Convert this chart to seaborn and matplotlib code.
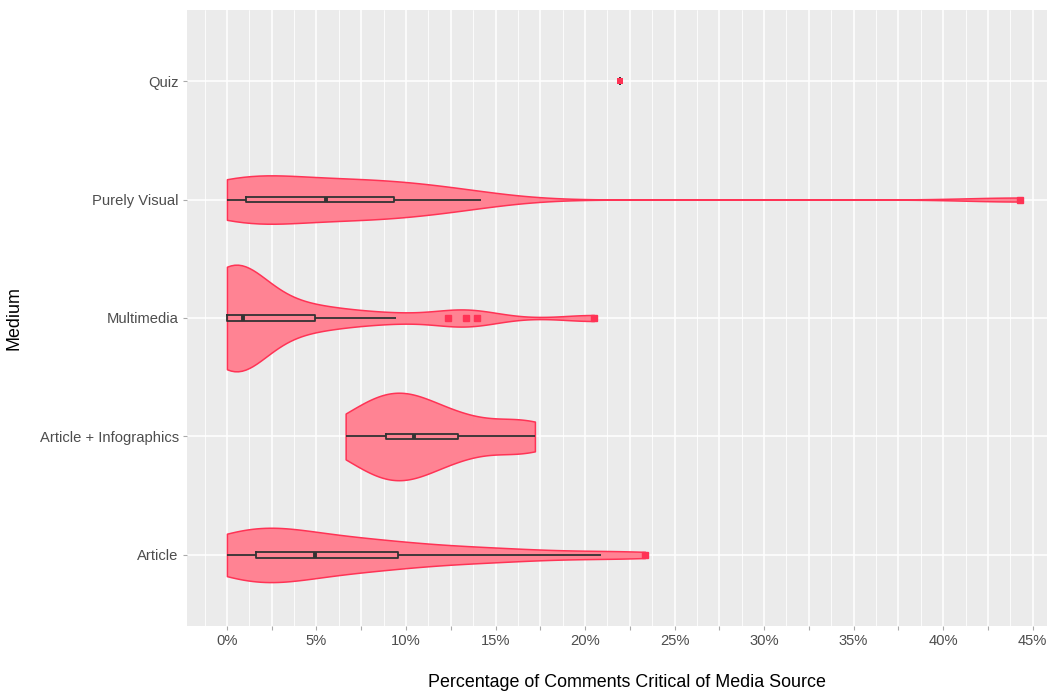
import matplotlib
matplotlib.use('Agg')
import matplotlib.pyplot as plt
import seaborn as sns
import pandas as pd
import numpy as np

article = [0, 0, 0, 0.5, 1.0, 1.3, 1.6, 1.6, 1.6, 2.1, 2.5, 2.8, 3.0, 3.4, 3.9,
           4.9, 5.5, 6.0, 6.6, 7.2, 8.0, 8.8, 9.3, 9.8, 11.6, 12.8, 14.0, 15.5,
           17.5, 20.9, 23.35]
article_info = [6.63, 7.8, 8.6, 9.14, 9.8, 10.45, 10.9, 12.3, 13.5, 16.0, 17.2]
multimedia = [0, 0, 0, 0, 0, 0, 0, 0, 0, 0, 0.3, 0.5, 0.6, 0.8, 0.9, 1.2, 1.5,
              2.0, 2.6, 3.3, 4.1, 4.9, 6.0, 7.4, 9.45, 12.35, 13.36, 13.98, 20.5]
purely_visual = [0, 0, 0.3, 0.5, 0.7, 0.9, 1.04, 1.6, 2.3, 3.0, 3.8, 4.6, 5.55,
                 6.2, 6.9, 7.4, 8.0, 8.6, 9.33, 10.2, 11.0, 12.0, 13.0, 14.2, 44.3]
quiz = [21.97]

order = ["Quiz", "Purely Visual", "Multimedia", "Article + Infographics", "Article"]

groups = {"Article": article, "Article + Infographics": article_info,
          "Multimedia": multimedia, "Purely Visual": purely_visual, "Quiz": quiz}
df = pd.DataFrame([(k, v) for k, vals in groups.items() for v in vals],
                  columns=["Medium", "Pct"])

fill_col = "#FF8393"
edge_col = "#FF3355"


def nrd0(kde):
    # R's default bandwidth, expressed as a factor of the sample sd
    x = kde.dataset.ravel()
    sd = x.std(ddof=1)
    q75, q25 = np.percentile(x, [75, 25])
    lo = min(sd, (q75 - q25) / 1.34) or sd
    return 0.9 * lo * len(x) ** -0.2 / sd


sns.set_theme(style="darkgrid", rc={
    "axes.facecolor": "#EBEBEB",
    "grid.color": "white",
})
plt.rcParams['font.family'] = ['Liberation Sans', 'DejaVu Sans']

fig, ax = plt.subplots(figsize=(10.54, 6.93), dpi=100)
fig.subplots_adjust(left=187 / 1054, right=1047 / 1054, top=1 - 10 / 693, bottom=1 - 626 / 693)

sns.violinplot(data=df[df["Medium"] != "Quiz"], x="Pct", y="Medium", order=order,
               color=fill_col, linecolor=edge_col, linewidth=1.1, saturation=1,
               inner=None, cut=0, density_norm="area", width=0.9,
               bw_method=nrd0, ax=ax)

sns.boxplot(data=df, x="Pct", y="Medium", order=order, width=0.05, fill=False,
            color="#333333", linewidth=1.3, showcaps=False,
            medianprops=dict(color="#333333", linewidth=2.8),
            flierprops=dict(marker="s", markerfacecolor=edge_col,
                            markeredgecolor=edge_col, markersize=4.5),
            ax=ax)

sns.stripplot(data=df[df["Medium"] == "Quiz"], x="Pct", y="Medium", order=order,
              marker="s", color=edge_col, jitter=False, size=4.5, ax=ax)

ax.set_xlim(-2.23, 45.8)
ax.set_ylim(4.6, -0.6)

major = np.arange(0, 45.01, 2.5)
ax.set_xticks(major)
ax.set_xticklabels([f"{v:.0f}%" if v % 5 == 0 else "" for v in major])
ax.set_xticks(np.arange(-1.25, 45.8, 2.5), minor=True)
ax.grid(which="major", color="white", linewidth=1.1)
ax.grid(which="minor", axis="x", color="white", linewidth=0.6)

ax.tick_params(axis="both", which="major", length=3, width=0.8, color="#AAAAAA",
               labelsize=10.6, labelcolor="#4D4D4D", pad=3)
ax.tick_params(axis="x", which="minor", length=0)
ax.tick_params(axis="x", which="major", bottom=True)
ax.tick_params(axis="y", which="major", left=True)

for s in ax.spines.values():
    s.set_visible(False)

xl = ax.set_xlabel("Percentage of Comments Critical of Media Source", fontsize=12.9, color="black")
xl.set_verticalalignment("center")
ax.xaxis.set_label_coords(0.511, -0.092)
ax.set_ylabel("Medium", fontsize=12.9, color="black", labelpad=12)

fig.savefig("out.png", dpi=100)
plt.close()
